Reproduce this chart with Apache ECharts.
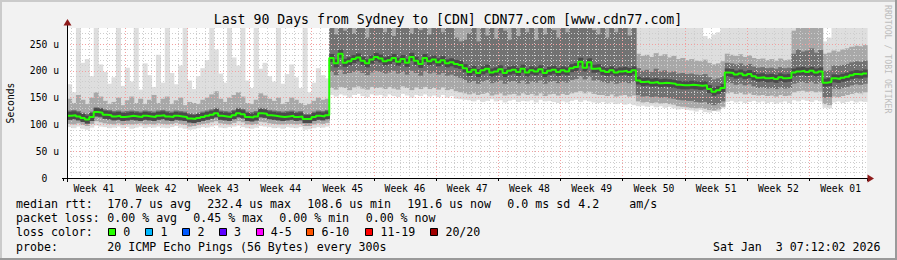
<!DOCTYPE html>
<html><head><meta charset="utf-8">
<script src="https://cdn.jsdelivr.net/npm/echarts@6/dist/echarts.min.js"></script>
<style>html,body{margin:0;padding:0;background:#f2f2f2;overflow:hidden}#c{width:897px;height:260px}</style>
</head><body><div id="c"></div>
<script>
// ---------------- DATA ----------------
const chartTitle = 'Last 90 Days from Sydney to [CDN] CDN77.com [www.cdn77.com]';
const weekLabels = ['Week 41','Week 42','Week 43','Week 44','Week 45','Week 46','Week 47','Week 48','Week 49','Week 50','Week 51','Week 52','Week 01'];
const yTickValues = [0, 50, 100, 150, 200, 250];
const stepDays = 0.5;          // one value every half day
const firstDay = 0.48;         // data start, in days after the first week boundary

// median rtt (us), one value per half day
const median = [
116,117,115,112,109,114,123,122,118,117,
115,116,114,115,116,115,114,116,115,114,
116,117,115,114,116,115,114,111,110,112,
114,116,118,121,116,115,114,117,121,119,
114,113,115,121,120,117,116,115,114,115,
116,114,115,110,110,114,116,115,117,224,
214,232,215,218,222,225,219,214,221,226,
223,218,220,224,217,222,215,226,219,213,
224,218,221,216,220,214,216,213,211,205,
198,202,196,201,204,197,199,203,196,200,
202,198,204,197,201,199,203,196,200,202,
198,201,199,205,207,217,206,216,204,205,
200,198,201,197,199,200,198,201,182,179,
180,178,179,177,178,177,176,174,173,173,
174,173,172,173,166,161,164,168,197,196,
193,195,192,194,190,187,188,186,187,185,
188,186,187,197,199,200,198,200,197,199,
178,179,186,185,187,189,192,194,193,195];

// lowest ping
const smokeMin = [
95,93,96,92,90,94,98,96,95,93,
94,96,93,95,92,94,96,93,95,94,
96,94,93,95,97,94,92,90,91,93,
95,94,96,98,94,93,95,96,98,95,
93,92,94,97,96,95,93,94,92,95,
94,93,95,90,91,93,95,94,96,155,
152,156,154,150,155,157,153,151,156,154,
155,152,156,153,151,157,154,150,155,153,
156,152,154,151,155,150,153,148,147,146,
145,143,146,142,144,147,143,145,141,144,
146,142,144,143,145,141,146,143,144,142,
140,143,141,144,146,142,145,143,141,140,
142,139,141,138,140,137,139,136,134,135,
133,135,132,134,131,133,130,128,129,127,
126,124,127,123,122,125,124,130,142,144,
141,143,140,142,144,141,143,140,142,139,
141,143,140,145,143,146,144,142,145,143,
131,130,141,143,140,142,144,141,143,142];

// 3rd ping
const smokeLo = [
101,100,102,99,97,101,106,104,102,101,
100,102,99,101,100,101,102,100,101,100,
102,101,100,101,103,101,99,96,97,99,
101,102,104,106,102,101,100,103,106,104,
100,99,101,105,104,102,101,100,100,101,
101,100,101,97,97,100,102,101,103,168,
165,170,168,164,169,171,167,165,170,168,
169,166,170,167,165,171,168,164,169,166,
170,166,168,165,169,164,166,162,160,158,
156,158,155,157,159,154,156,158,154,156,
157,154,158,155,157,154,158,153,156,157,
154,157,155,158,160,162,158,161,157,155,
155,153,156,152,154,155,152,154,143,141,
142,140,141,139,140,138,137,134,133,132,
131,130,131,129,127,126,128,133,158,160,
157,159,156,158,155,154,155,153,154,152,
155,153,154,160,162,163,161,162,160,161,
138,136,152,151,153,155,157,159,158,160];

// 6th ping
const coreLo = [
109,110,108,105,102,107,114,113,110,109,
108,109,107,108,109,108,107,109,108,107,
109,110,108,107,109,108,107,104,103,105,
107,109,111,113,109,108,107,110,113,111,
107,106,108,113,112,110,109,108,107,108,
109,107,108,103,103,107,109,108,110,198,
192,202,194,196,198,200,196,192,197,200,
198,195,197,200,195,198,193,200,196,191,
199,195,197,193,196,191,193,190,187,183,
178,181,176,180,183,177,179,182,176,179,
181,177,182,176,180,178,182,176,179,181,
177,180,178,183,185,190,184,189,182,183,
179,177,180,176,178,179,177,180,155,152,
153,151,152,150,151,149,148,146,145,144,
144,142,141,142,138,136,139,143,178,177,
174,176,173,175,171,168,169,167,168,166,
169,167,168,176,178,179,177,179,176,178,
150,151,167,166,168,170,173,175,174,176];

// 15th ping
const coreHi = [
126,127,125,122,120,124,132,131,128,127,
125,126,124,125,126,125,124,126,125,124,
126,127,125,124,126,125,124,121,120,122,
124,126,128,131,126,125,124,127,131,129,
124,123,125,131,130,127,126,125,124,125,
126,124,125,120,120,124,126,125,127,290,
268,300,275,292,270,310,285,262,298,280,
310,272,290,265,302,280,310,270,295,276,
305,268,288,298,272,310,280,262,255,258,
270,285,255,302,266,292,260,308,275,258,
298,265,310,272,285,258,305,268,292,276,
262,290,272,308,298,312,285,302,276,268,
288,262,295,272,280,298,266,290,205,200,
202,198,204,199,201,197,199,195,196,194,
195,193,192,194,188,184,186,190,215,214,
212,214,210,213,208,206,207,205,206,204,
207,205,206,232,240,236,238,242,234,239,
200,201,210,209,211,213,216,218,217,219];

// 18th ping
const smokeHi = [
148,140,155,146,138,150,160,152,144,138,
142,150,136,145,152,140,148,138,146,155,
140,148,152,138,145,150,136,142,140,138,
146,150,156,162,148,142,150,155,160,152,
140,138,146,158,154,148,144,150,138,142,
150,146,140,136,138,144,150,146,148,320,
320,320,320,320,320,320,320,320,320,320,
320,320,320,320,320,320,320,320,320,320,
320,320,320,320,320,320,320,320,320,320,
320,320,320,320,320,320,320,320,320,320,
320,320,320,320,320,320,320,320,320,320,
320,320,320,320,320,320,320,320,320,320,
320,320,320,320,320,320,320,320,232,228,
230,226,233,228,231,225,228,222,224,220,
222,219,218,221,215,212,214,218,232,230,
228,231,226,229,224,222,223,220,222,219,
223,220,221,275,285,280,288,290,282,286,
232,234,238,236,240,242,245,247,246,248];

// highest ping
const smokeMax = [
175,160,285,215,222,190,285,212,198,176,
188,285,172,206,180,285,165,214,192,170,
230,178,285,196,175,210,285,182,166,190,
205,220,285,240,195,178,285,225,210,285,
182,168,285,204,215,190,180,285,176,194,
212,188,168,285,160,178,205,192,186,330,
330,330,330,330,330,330,330,330,330,330,
330,330,330,330,330,330,330,330,330,330,
330,330,330,330,330,330,330,330,330,330,
330,330,330,330,330,330,330,330,330,330,
330,330,330,330,330,330,330,330,330,330,
330,330,330,330,330,330,330,330,330,330,
330,330,330,330,330,330,330,330,300,300,
300,300,300,300,300,300,300,300,300,300,
300,300,300,265,260,268,272,300,300,300,
300,300,300,300,300,300,300,300,300,300,
300,300,300,300,300,300,300,300,300,300,
255,262,300,300,300,300,300,300,300,300];

const statsRtt = ['170.7 us avg','232.4 us max','108.6 us min','191.6 us now','0.0 ms sd','4.2','am/s'];
const statsLoss = ['0.00 % avg','0.45 % max','0.00 % min','0.00 % now'];
const lossNames = ['0','1','2','3','4-5','6-10','11-19','20/20'];
const lossColors = ['#26ff00','#00b8ff','#0059ff','#5e00ff','#ff00ff','#ff5500','#ff0000','#a10000'];
const probeText = '20 ICMP Echo Pings (56 Bytes) every 300s';
const stampText = 'Sat Jan\u00a0\u00a03 07:12:02 2026';

// ---------------- CHART ----------------
const MONO = '"DejaVu Sans Mono", monospace';
const chart = echarts.init(document.getElementById('c'), null, {renderer: 'svg', width: 897, height: 260});

const t0 = i => firstDay + i * stepDays;
function band(lo, hi) { return median.map((_, i) => [t0(i), t0(i + 1), lo[i], hi[i]]); }
function bandRenderer(fill) {
  return function (params, api) {
    const a = api.coord([api.value(0), Math.min(api.value(3), 280)]);
    const b = api.coord([api.value(1), api.value(2)]);
    return {type: 'rect', shape: {x: a[0], y: a[1], width: b[0] - a[0] + 0.6, height: b[1] - a[1]}, style: {fill: fill}};
  };
}
function coreRenderer(params, api) {
  const a = api.coord([api.value(0), api.value(2)]);
  const b = api.coord([api.value(1), api.value(2)]);
  return {type: 'rect', shape: {x: a[0], y: a[1] - 4, width: b[0] - a[0] + 0.6, height: 8}, style: {fill: '#4a4a4a'}};
}
const medianData = median.map((v, i) => [t0(i), t0(i + 1), v]);
const medianLine = median.map((v, i) => [t0(i), v]).concat([[t0(median.length), median[median.length - 1]]]);

function smokeSeries(lo, hi, fill) {
  return {type: 'custom', xAxisIndex: 1, yAxisIndex: 2, clip: true, z: 1, silent: true,
    renderItem: bandRenderer(fill), encode: {x: [0, 1], y: [2, 3]}, data: band(lo, hi)};
}

const minorGrey = {color: '#cdcdcd', width: 1, type: [1, 2]};
const majorRed = {color: '#f2a0a0', width: 1, type: [1, 2]};

const g = [];
// frame
g.push({type: 'rect', shape: {x: 0, y: 0, width: 897, height: 2}, style: {fill: '#cbcbcb'}, silent: true});
g.push({type: 'rect', shape: {x: 0, y: 0, width: 2, height: 260}, style: {fill: '#cbcbcb'}, silent: true});
g.push({type: 'rect', shape: {x: 0, y: 258, width: 897, height: 2}, style: {fill: '#9a9a9a'}, silent: true});
g.push({type: 'rect', shape: {x: 895, y: 0, width: 2, height: 260}, style: {fill: '#9a9a9a'}, silent: true});
// axis extensions and arrows
g.push({type: 'line', shape: {x1: 67.5, y1: 24, x2: 67.5, y2: 182}, style: {stroke: '#000', lineWidth: 1}, z: 20});
g.push({type: 'line', shape: {x1: 62, y1: 178.5, x2: 869, y2: 178.5}, style: {stroke: '#000', lineWidth: 1}, z: 20});
g.push({type: 'polygon', shape: {points: [[63.5, 25.5], [71.5, 25.5], [67.5, 19]]}, style: {fill: '#8e1b1b'}, z: 21});
g.push({type: 'polygon', shape: {points: [[867.5, 174.5], [867.5, 182.5], [874, 178.5]]}, style: {fill: '#8e1b1b'}, z: 21});
function txt(x, y, s, font, extra) {
  return Object.assign({type: 'text', x: x, y: y, silent: true, z: 30,
    style: Object.assign({text: s, font: font, fill: '#000', align: 'left', verticalAlign: 'middle', textAlign: 'left', textVerticalAlign: 'middle'}, extra || {})});
}
const F13 = '13.2px ' + MONO, F11 = '11.6px ' + MONO;
g.push(txt(448, 19.5, chartTitle, F13, {align: 'center', textAlign: 'center'}));
const wm = txt(887.5, 5, 'RRDTOOL / TOBI OETIKER', '8.2px ' + MONO, {fill: '#bdbdbd'});
wm.rotation = -Math.PI / 2;
g.push(wm);
// legend
const L1 = 204.3, L2 = 218.3, L3 = 232.3, L4 = 246.6;
g.push(txt(16, L1, 'median rtt:', F11));
[107.3, 207.3, 307.3, 407.3, 507.3, 578.3, 629.3].forEach((x, i) => g.push(txt(x, L1, statsRtt[i], F11)));
g.push(txt(16, L2, 'packet loss:', F11));
[107.3, 193.3, 279.3, 365.7].forEach((x, i) => g.push(txt(x, L2, statsLoss[i], F11)));
g.push(txt(16, L3, 'loss color:', F11));
const boxX = [108.5, 145.5, 182.5, 219.5, 256.5, 306.5, 365.5, 430.5];
const labX = [123.2, 160.4, 197.4, 234, 270.7, 321.4, 380.4, 445.4];
lossNames.forEach((n, i) => {
  g.push({type: 'rect', shape: {x: boxX[i], y: 228.5, width: 7, height: 7}, style: {fill: lossColors[i], stroke: '#000', lineWidth: 1}, z: 30, silent: true});
  g.push(txt(labX[i], L3, n, F11));
});
g.push(txt(16, L4, 'probe:', F11));
g.push(txt(107.3, L4, probeText, F11));
g.push(txt(880.5, L4, stampText, F11, {align: 'right', textAlign: 'right'}));

const option = {
  backgroundColor: '#f2f2f2',
  animation: false,
  textStyle: {fontFamily: MONO},
  grid: [
    {left: 67, top: 28, width: 800, height: 150, show: true, backgroundColor: '#ffffff', borderWidth: 0, outerBoundsMode: 'none'},
    {left: 62.78, top: 28, width: 804.22, height: 150, outerBoundsMode: 'none'},
    {left: 31.67, top: 28, width: 808.89, height: 150, outerBoundsMode: 'none'}
  ],
  xAxis: [
    {gridIndex: 0, type: 'value', min: 0, max: 1, show: false},
    {gridIndex: 1, type: 'value', min: 0, max: 90.48, interval: 7, z: 4,
      axisLine: {show: false}, axisTick: {show: true, length: 3, lineStyle: {color: '#000'}},
      axisLabel: {show: false},
      splitLine: {show: true, showMinLine: false, showMaxLine: false, lineStyle: majorRed}},
    {gridIndex: 1, type: 'value', min: 0, max: 90.48, interval: 1, position: 'top', z: 3,
      axisLine: {show: false}, axisTick: {show: false}, axisLabel: {show: false},
      splitLine: {show: true, showMinLine: false, showMaxLine: false, lineStyle: minorGrey}},
    {gridIndex: 2, type: 'value', min: 0, max: 91, interval: 7, z: 4,
      axisLine: {show: false}, axisTick: {show: false}, splitLine: {show: false},
      axisLabel: {show: true, margin: 5, color: '#000', fontFamily: MONO, fontSize: 9.7,
        formatter: v => { const k = Math.round(v / 7); return (k >= 1 && k <= weekLabels.length) ? weekLabels[k - 1] : ''; }}}
  ],
  yAxis: [
    {gridIndex: 0, type: 'value', min: 0, max: 280, interval: 50, z: 4,
      name: 'Seconds', nameLocation: 'middle', nameGap: 52, nameRotate: 90,
      nameTextStyle: {color: '#000', fontFamily: MONO, fontSize: 9.7},
      axisLine: {show: false}, axisTick: {show: false},
      axisLabel: {show: true, margin: 8, color: '#000', fontFamily: MONO, fontSize: 9.7,
        formatter: v => (yTickValues.indexOf(v) < 0 ? '' : (v === 0 ? '0\u00a0\u00a0' : v + ' u'))},
      splitLine: {show: true, showMinLine: false, showMaxLine: false, lineStyle: majorRed}},
    {gridIndex: 0, type: 'value', min: 0, max: 280, interval: 10, z: 3, position: 'right',
      axisLine: {show: false}, axisTick: {show: false}, axisLabel: {show: false},
      splitLine: {show: true, showMinLine: false, showMaxLine: false, lineStyle: minorGrey}},
    {gridIndex: 1, type: 'value', min: 0, max: 280, show: false, splitLine: {show: false}},
    {gridIndex: 2, type: 'value', min: 0, max: 1, show: false, splitLine: {show: false}}
  ],
  series: [
    smokeSeries(smokeMin, smokeMax, '#dedede'),
    smokeSeries(smokeLo, smokeHi, '#a8a8a8'),
    smokeSeries(coreLo, coreHi, '#727272'),
    {type: 'custom', xAxisIndex: 1, yAxisIndex: 2, clip: true, z: 5, silent: true,
      renderItem: coreRenderer, encode: {x: [0, 1], y: 2}, data: medianData},
    {type: 'line', xAxisIndex: 1, yAxisIndex: 2, z: 6, step: 'end', symbol: 'none', silent: true,
      lineStyle: {color: '#22ff00', width: 2}, data: medianLine}
  ],
  graphic: {elements: g}
};
chart.setOption(option);
</script></body></html>
